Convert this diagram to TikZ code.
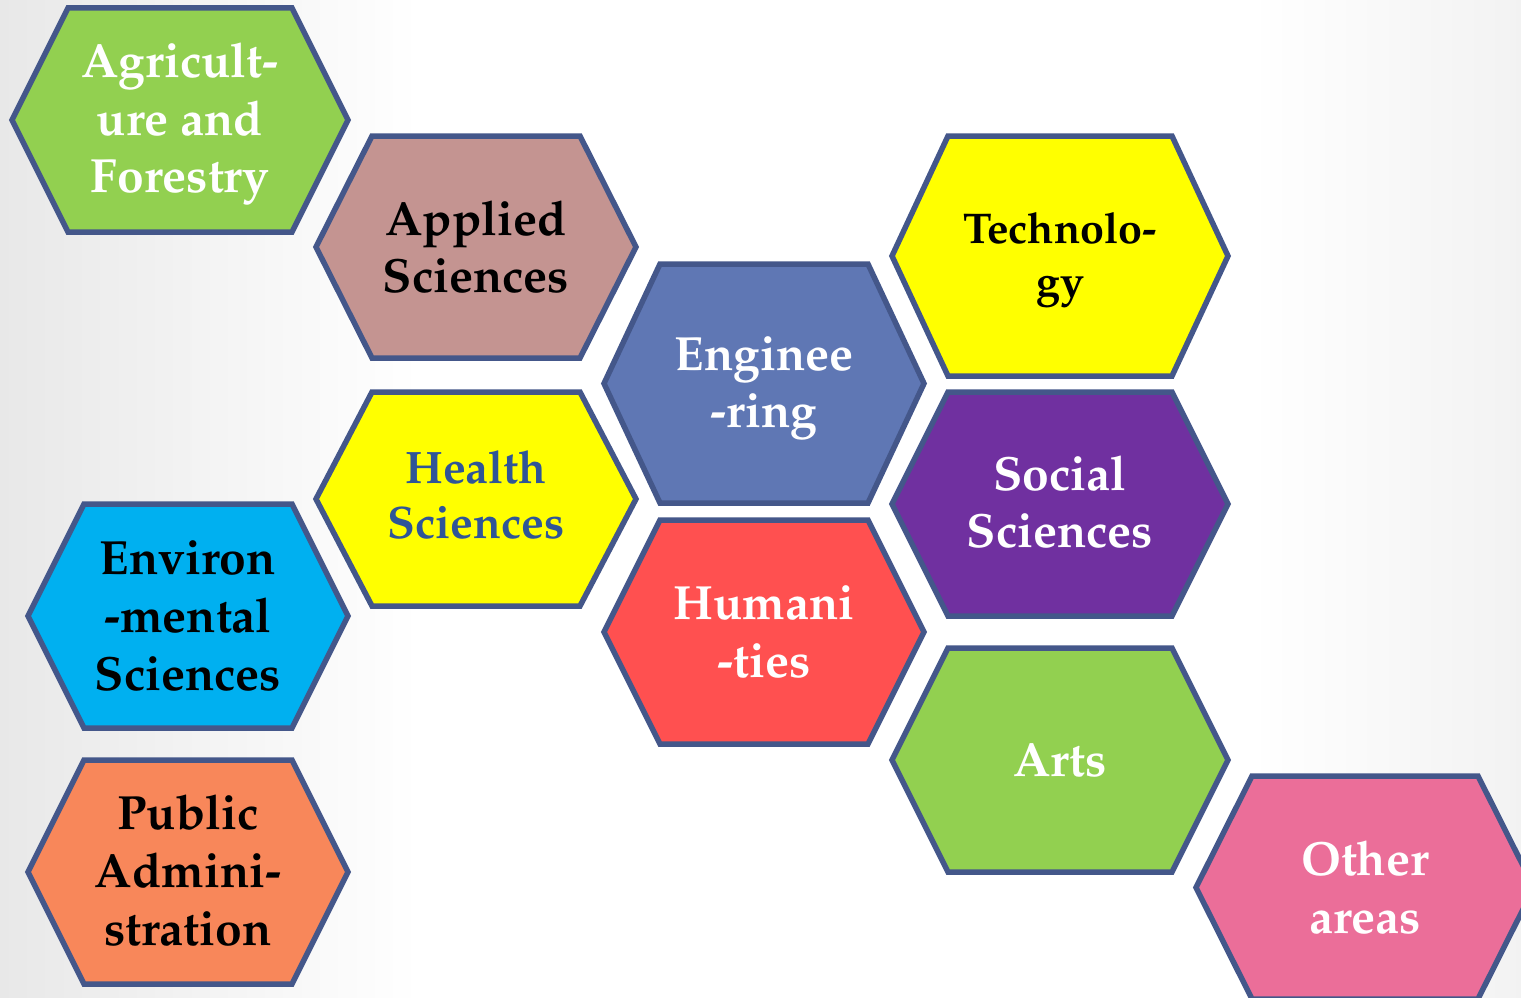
\documentclass[tikz,border=0pt]{standalone}
\usepackage[T1]{fontenc}
\usepackage{mathpazo}
\definecolor{hexline}{HTML}{44578A}
\definecolor{cgreen}{HTML}{92D050}
\definecolor{crose}{HTML}{C49491}
\definecolor{cblue}{HTML}{5F77B4}
\definecolor{cyell}{HTML}{FFFF00}
\definecolor{cpurp}{HTML}{7030A0}
\definecolor{ccyan}{HTML}{00B0F0}
\definecolor{cred}{HTML}{FF5050}
\definecolor{corange}{HTML}{F8875A}
\definecolor{cpink}{HTML}{EB6E99}
\definecolor{tblue}{HTML}{2F5597}
\tikzset{
  hexborder/.style={draw=hexline, line width=5.5pt, line join=miter},
  lbl/.style={align=center, inner sep=0pt}
}
% #1 name, #2 left x, #3 right x, #4 top y, #5 bottom y, #6 fill, #7 text options, #8 font size, #9 text
\newcommand{\hexcell}[9]{%
  \filldraw[hexborder, fill=#6] (#2,{(#4+#5)/2}) -- (#2+56,#4) -- (#3-56,#4) -- (#3,{(#4+#5)/2}) -- (#3-56,#5) -- (#2+56,#5) -- cycle;
  \node[lbl, #7, font=\bfseries\fontsize{#8pt}{\dimexpr #8pt*6/5\relax}\selectfont] (#1) at ({(#2+#3)/2},{(#4+#5)/2}) {#9};}
\begin{document}
\begin{tikzpicture}[x=1pt, y=-1pt]
\useasboundingbox (0,0) rectangle (1521,998);
\fill[white] (0,0) rectangle (1521,998);
\shade[left color=black!9, right color=white] (0,0) rectangle (420,998);
\shade[left color=white, right color=black!5] (1250,0) rectangle (1521,998);
\begin{scope}
\clip (0,0) rectangle (1521,998);
\hexcell{agri}{12}{348}{8}{232}{cgreen}{text=white, yshift=-4pt}{48}{Agricult-\\ure and\\Forestry}
\hexcell{applied}{316}{636}{136}{358}{crose}{text=black}{48}{Applied\\Sciences}
\hexcell{eng}{604}{924}{264}{503}{cblue}{text=white, yshift=-5pt}{48}{Enginee\\-ring}
\hexcell{tech}{892}{1228}{136}{376}{cyell}{text=black, yshift=-4pt}{43}{Technolo-\\[0.05em]gy}
\hexcell{health}{316}{636}{392}{606}{cyell}{text=tblue, yshift=4pt}{45.5}{Health\\Sciences}
\hexcell{social}{892}{1228}{392}{616}{cpurp}{text=white, yshift=2pt}{48}{Social\\Sciences}
\hexcell{env}{28}{348}{504}{728}{ccyan}{text=black}{48}{Environ\\-mental\\Sciences}
\hexcell{hum}{604}{924}{520}{744}{cred}{text=white}{48}{Humani\\-ties}
\hexcell{arts}{892}{1228}{648}{872}{cgreen}{text=white}{48}{Arts}
\hexcell{public}{28}{348}{760}{984}{corange}{text=black, yshift=1.5pt}{48}{Public\\Admini-\\stration}
\hexcell{other}{1196}{1534}{776}{999}{cpink}{text=white}{48}{Other\\areas}
\end{scope}
\end{tikzpicture}
\end{document}
